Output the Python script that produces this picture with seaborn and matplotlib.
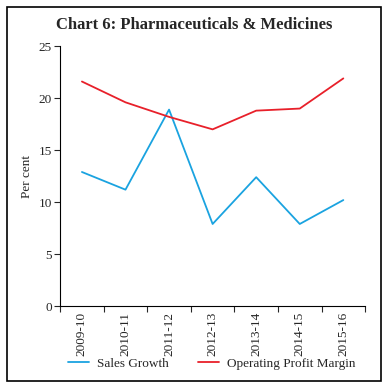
import pandas as pd
import seaborn as sns
import matplotlib.pyplot as plt
from matplotlib.patches import Rectangle

years = ["2009-10", "2010-11", "2011-12", "2012-13", "2013-14", "2014-15", "2015-16"]
sales_growth = [12.9, 11.2, 18.9, 7.9, 12.4, 7.9, 10.2]
op_margin = [21.6, 19.6, 18.2, 17.0, 18.8, 19.0, 21.9]

df = pd.DataFrame({
    "pos": list(range(len(years))) * 2,
    "value": sales_growth + op_margin,
    "series": ["Sales Growth"] * len(years) + ["Operating Profit Margin"] * len(years),
})

sns.set_style("white")
plt.rcParams['font.family'] = ['Liberation Serif', 'DejaVu Serif']

fig = plt.figure(figsize=(3.88, 3.88), dpi=100)
ax = fig.add_axes([0.155, 0.211, 0.786, 0.67])

sns.lineplot(data=df, x="pos", y="value", hue="series",
             palette={"Sales Growth": "#1aa3e0", "Operating Profit Margin": "#e8202a"},
             linewidth=1.3, ax=ax, legend=True)

ax.set_ylim(0, 25)
ax.set_yticks(range(0, 26, 5))
ax.set_xlim(-0.5, len(years) - 0.5)
ax.set_xticks([i - 0.5 for i in range(len(years) + 1)])
ax.set_xticklabels([])
ax.set_xticks(range(len(years)), minor=True)
ax.set_xticklabels(years, minor=True, rotation=90, fontsize=9.5)
ax.tick_params(axis="x", which="minor", length=0, pad=4)
ax.tick_params(axis="x", which="major", length=4, width=0.8, direction="out", bottom=True)
ax.tick_params(axis="y", length=4, width=0.8, direction="out", left=True, labelsize=9.5, pad=2)
ax.set_xlabel("")
ax.set_ylabel("Per cent", fontsize=9.5)

for s in ["top", "right"]:
    ax.spines[s].set_visible(False)
for s in ["left", "bottom"]:
    ax.spines[s].set_color("black")
    ax.spines[s].set_linewidth(0.8)

handles, labels = ax.get_legend_handles_labels()
ax.get_legend().remove()
fig.legend(handles, labels, loc="center", bbox_to_anchor=(0.545, 0.062),
           bbox_transform=fig.transFigure, ncol=2, frameon=False,
           fontsize=9.5, handlelength=1.6, handletextpad=0.6, columnspacing=2.2)

fig.text(0.5, 0.935, "Chart 6: Pharmaceuticals & Medicines", ha="center", va="center",
         fontsize=12, fontweight="bold")

fig.patches.append(Rectangle((0.018, 0.018), 0.964, 0.964, transform=fig.transFigure,
                             fill=False, edgecolor="black", linewidth=1.2))

fig.savefig("out.png", dpi=100)
